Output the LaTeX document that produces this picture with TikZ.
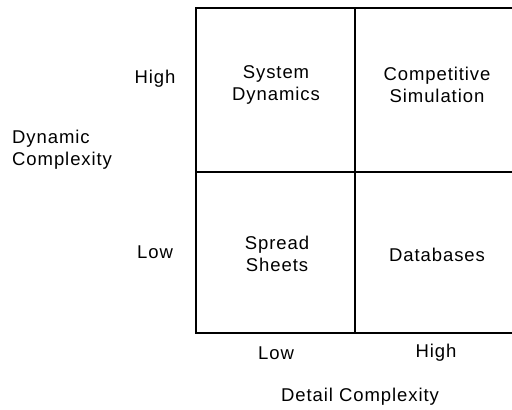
\documentclass[tikz,border=0pt]{standalone}
\usepackage{fontspec}
\setmainfont{Liberation Sans}[LetterSpace=5]
\begin{document}
\begin{tikzpicture}[x=1pt,y=1pt,
  lbl/.style={font=\fontsize{18.5}{22}\selectfont, align=center, inner sep=0pt},
  gridline/.style={line width=2.4pt, line cap=rect}]
\useasboundingbox (0,0) rectangle (512,410);
% grid (y up: y = 410 - pixel row)
\coordinate (tl) at (196,402);
\coordinate (tr) at (514,402);
\coordinate (bl) at (196,77);
\coordinate (br) at (514,77);
\coordinate (mt) at (355,402);
\coordinate (mb) at (355,77);
\coordinate (ml) at (196,238);
\coordinate (mr) at (514,238);
\begin{scope}
\clip (0,0) rectangle (512,410);
\draw[gridline] (tr) -- (tl) -- (bl) -- (br);
\draw[gridline] (mt) -- (mb);
\draw[gridline] (ml) -- (mr);
\end{scope}
% cells
\node[lbl] (sd) at (276,325) {System\\Dynamics};
\node[lbl] (cs) at (437,325) {Competitive\\Simulation};
\node[lbl] (ss) at (277,156) {Spread\\Sheets};
\node[lbl] (db) at (437,155) {Databases};
% axes
\node[lbl] (xlow) at (276,57) {Low};
\node[lbl] (xhigh) at (436,57) {High};
\node[lbl] (xt) at (360,13) {Detail Complexity};
\node[lbl] (yhigh) at (155,331) {High};
\node[lbl] (ylow) at (155,158) {Low};
\node[lbl, anchor=west, align=left] (yt) at (12,260) {Dynamic\\Complexity};
\end{tikzpicture}
\end{document}
